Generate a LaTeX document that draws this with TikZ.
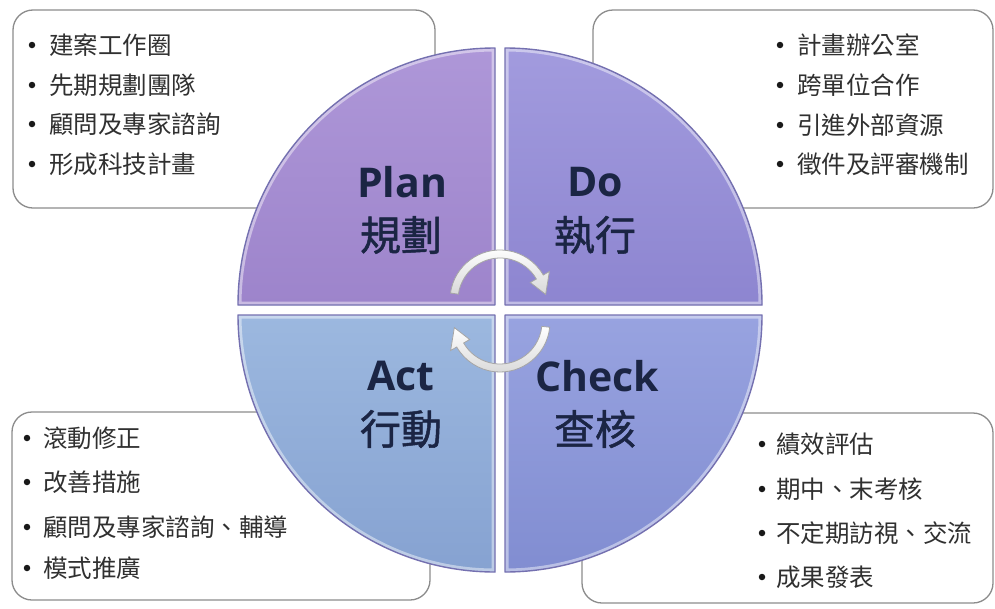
\documentclass[tikz,border=0pt]{standalone}
\usepackage{fontspec}
\newfontfamily\cjk{Noto Sans CJK TC}
\newfontfamily\cjkbold{Noto Sans CJK TC}[FakeBold=1.2]
\newfontfamily\latfont{Open Sans}
\definecolor{plantop}{HTML}{AE97D8}
\definecolor{planbot}{HTML}{9D84CB}
\definecolor{dotop}{HTML}{A29BDE}
\definecolor{dobot}{HTML}{8D85D0}
\definecolor{acttop}{HTML}{9CB8DF}
\definecolor{actbot}{HTML}{86A2D1}
\definecolor{chktop}{HTML}{98A3E0}
\definecolor{chkbot}{HTML}{818DD1}
\definecolor{qedge}{HTML}{7470B0}
\definecolor{navy}{HTML}{1B2544}
\definecolor{boxline}{HTML}{8C8C8C}
\definecolor{txt}{HTML}{303030}
\tikzset{
  infobox/.style={draw=boxline, line width=1.3pt, rounded corners=20pt, fill=white, inner sep=0pt},
  itemtext/.style={anchor=west, inner sep=0pt, text=txt, font=\cjk\fontsize{24.5}{28}\selectfont},
  bulletdot/.style={circle, fill=black!90, minimum size=6.5pt, inner sep=0pt},
  latlabel/.style={text=navy, inner sep=0pt, font=\latfont\bfseries\fontsize{41}{46}\selectfont},
  cjklabel/.style={text=navy, inner sep=0pt, font=\cjkbold\fontsize{41}{46}\selectfont},
  cyclearrow/.style={top color=white, bottom color=black!15, draw=black!35, line width=0.8pt},
}
\begin{document}
\begin{tikzpicture}[x=1pt,y=1pt]
\useasboundingbox (0,0) rectangle (995,-608);
\fill[white] (0,0) rectangle (995,-608);

% text boxes (behind the circle)
\node[infobox, minimum width=422pt, minimum height=198pt] (boxplan) at (224,-109) {};
\node[infobox, minimum width=400pt, minimum height=198pt] (boxdo) at (793,-109) {};
\node[infobox, minimum width=418pt, minimum height=188pt] (boxact) at (221,-506) {};
\node[infobox, minimum width=411pt, minimum height=190pt] (boxcheck) at (787.5,-508) {};

% box items
\foreach \bx/\tx/\y/\t/\n in {
  32/49/-45/建案工作圈/p1, 32/49/-85/先期規劃團隊/p2, 32/49/-124/顧問及專家諮詢/p3, 32/49/-164/形成科技計畫/p4,
  780/797/-45/計畫辦公室/d1, 780/797/-85/跨單位合作/d2, 780/797/-125/引進外部資源/d3, 780/797/-164/徵件及評審機制/d4,
  27/43/-438/滾動修正/a1, 27/43/-482/改善措施/a2, 27/43/-527/顧問及專家諮詢、輔導/a3, 27/43/-568/模式推廣/a4,
  762/776/-444/績效評估/c1, 762/776/-489/期中、末考核/c2, 762/776/-533/不定期訪視、交流/c3, 762/776/-577/成果發表/c4}{
  \node[bulletdot] (b\n) at (\bx,\y) {};
  \node[itemtext] (t\n) at (\tx,\y) {\t};
}

% quadrants
\foreach \cx/\cy/\sa/\ct/\cb in {495/-305/90/plantop/planbot, 505/-305/0/dotop/dobot, 495/-315/180/acttop/actbot, 505/-315/270/chktop/chkbot}{
  \path[top color=\ct, bottom color=\cb] (\cx,\cy) -- ++(\sa:257) arc[start angle=\sa, delta angle=90, radius=257] -- cycle;
  \begin{scope}
    \clip (\cx,\cy) -- ++(\sa:257) arc[start angle=\sa, delta angle=90, radius=257] -- cycle;
    \draw[white, opacity=0.45, line width=7pt] (\cx,\cy) -- ++(\sa:257) arc[start angle=\sa, delta angle=90, radius=257] -- cycle;
  \end{scope}
  \draw[qedge, line width=1.4pt, line join=round] (\cx,\cy) -- ++(\sa:257) arc[start angle=\sa, delta angle=90, radius=257] -- cycle;
}

% cycle arrows
\begin{scope}[shift={(500,-300)}]
  \path[cyclearrow] (172:50) arc[start angle=172, end angle=30, radius=50] -- (30:57) -- (7:46) -- (30:35) -- (30:42) arc[start angle=30, end angle=172, radius=42] -- cycle;
\end{scope}
\begin{scope}[shift={(500,-322)}]
  \path[cyclearrow] (-6:50) arc[start angle=-6, end angle=-150, radius=50] -- (-150:57) -- (-173:46) -- (-150:35) -- (-150:42) arc[start angle=-150, end angle=-6, radius=42] -- cycle;
\end{scope}

% labels
\node[latlabel] (plan) at (402,-182) {Plan};
\node[cjklabel] (planzh) at (401,-235) {規劃};
\node[latlabel] (do) at (595,-182) {Do};
\node[cjklabel] (dozh) at (595,-235) {執行};
\node[latlabel] (act) at (401,-376) {Act};
\node[cjklabel] (actzh) at (401,-429) {行動};
\node[latlabel] (check) at (597,-376) {Check};
\node[cjklabel] (checkzh) at (595,-429) {查核};
\end{tikzpicture}
\end{document}
